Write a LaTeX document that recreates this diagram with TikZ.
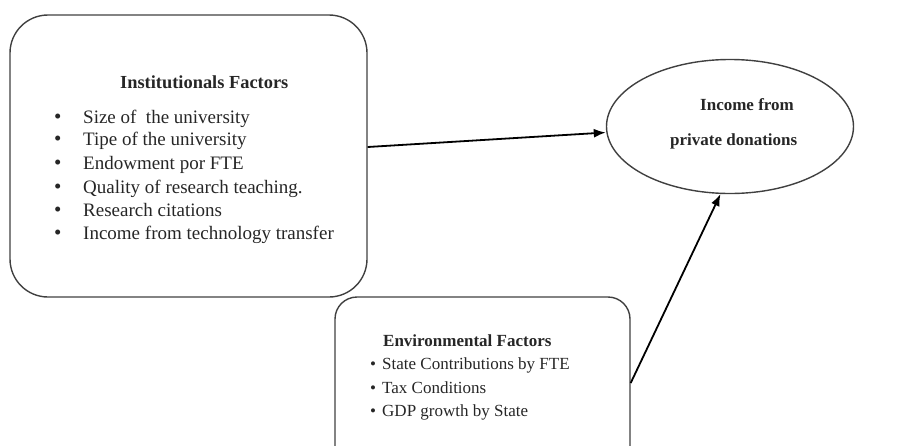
\documentclass[tikz,border=0pt]{standalone}
\usepackage{fontspec}
\setmainfont{Liberation Serif}
\usetikzlibrary{shapes.geometric,arrows.meta}
\begin{document}
\begin{tikzpicture}[x=1pt,y=-1pt,
  box/.style={draw=black!75,line width=1.4pt,rounded corners=#1,inner sep=0pt},
  item/.style={anchor=base west,inner sep=0pt,font=\fontsize{17}{20}\selectfont,text=black!85},
  title/.style={anchor=base west,inner sep=0pt,font=\bfseries\fontsize{17}{20}\selectfont,text=black!85},
  conn/.style={line width=1.8pt,-{Latex[length=12pt,width=9pt]}}]
\useasboundingbox (0,0) rectangle (911,445);
\node[box=38pt,minimum width=357pt,minimum height=282pt] (inst) at (188.5,156) {};
\node[box=22pt,minimum width=295pt,minimum height=172pt] (env) at (482.5,383) {};
\node[draw=black!75,line width=1.4pt,ellipse,minimum width=247pt,minimum height=134pt,inner sep=0pt] (ell) at (730,126.5) {};
\node[title,font=\bfseries\fontsize{18.4}{20}\selectfont] (ititle) at (120,88) {Institutionals Factors};
\foreach \n/\y/\t in {1/123/Size of\ \ the university,2/145/Tipe of the university,3/169/Endowment por FTE,4/193/Quality of research teaching.,5/216/Research citations,6/239/Income from technology transfer}{
  \node[item,font=\fontsize{21}{20}\selectfont] (ib\n) at (54,\y) {\textbullet};
  \node[item,font=\fontsize{19}{20}\selectfont] (it\n) at (83,\y) {\t};
}
\node[title] (etitle) at (383,346) {Environmental Factors};
\foreach \n/\y/\t in {1/369/State Contributions by FTE,2/393/Tax Conditions,3/416/GDP growth by State}{
  \node[item] (eb\n) at (370,\y) {\textbullet};
  \node[item] (et\n) at (382,\y) {\t};
}
\node[title] (l1) at (700,110) {Income from};
\node[title] (l2) at (670,145) {private donations};
\draw[conn] ([yshift=9pt]inst.east) -- ([yshift=-6pt]ell.west);
\draw[conn] (env.east) -- (ell.262);
\end{tikzpicture}
\end{document}
